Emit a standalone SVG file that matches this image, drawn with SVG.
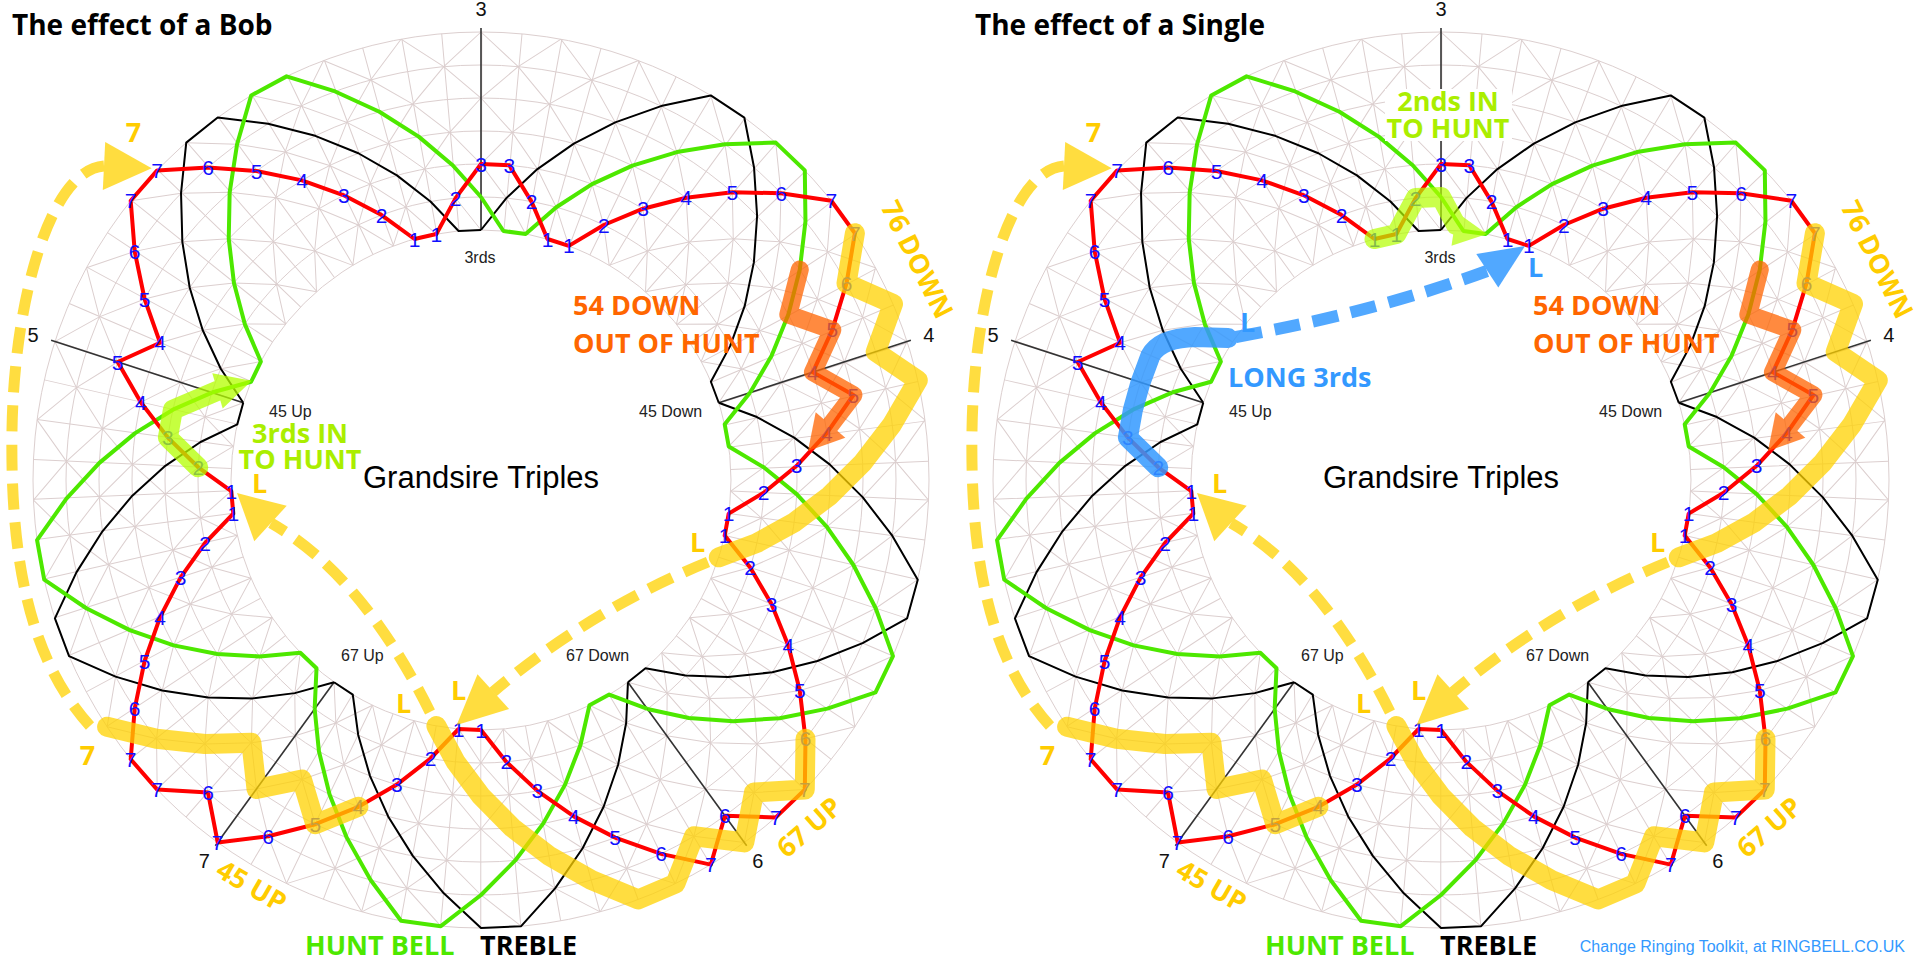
<svg xmlns="http://www.w3.org/2000/svg" xmlns:xlink="http://www.w3.org/1999/xlink" width="1920" height="960" viewBox="0 0 1920 960">
<style>
.gr{fill:none;stroke:#dccfcf;stroke-width:1}
.grr{fill:none;stroke:#dccfcf;stroke-width:198;stroke-dasharray:1 30.3261;stroke-dashoffset:-15.163}
.ax{stroke:#333;stroke-width:1.6}
.tr{fill:none;stroke:#000;stroke-width:2;stroke-linejoin:round}
.hb{fill:none;stroke:#4de800;stroke-width:4;stroke-linejoin:round}
.rd{fill:none;stroke:#ff0000;stroke-width:4;stroke-linejoin:round}
.n text{font-family:"Liberation Sans",Arial,sans-serif;font-size:21px;fill:#1010ff;text-anchor:middle;dominant-baseline:central}
.axl{font-family:"Liberation Sans",Arial,sans-serif;font-size:20px;fill:#111;text-anchor:middle;dominant-baseline:central}
.wk{font-family:"Liberation Sans",Arial,sans-serif;font-size:16px;fill:#222}
.gt{font-family:"Liberation Sans",Arial,sans-serif;font-size:31px;fill:#000;text-anchor:middle}
.bd{font-family:"Open Sans","DejaVu Sans",sans-serif;font-weight:700;font-size:27px}
.ttl{font-family:"Open Sans","DejaVu Sans",sans-serif;font-weight:700;font-size:28px;fill:#000}
.mid{text-anchor:middle}
.cen{text-anchor:middle;dominant-baseline:central}
.yt{fill:#ffcc00}
.ot{fill:#ff6600}
.lgt{fill:#aaee00}
.blt{fill:#3399ff}
.ys{fill:none;stroke:#ffd200;stroke-width:20;stroke-linecap:round;stroke-linejoin:round}
.yd{fill:none;stroke:#ffd200;stroke-width:11;stroke-dasharray:26 13}
.yf{fill:#ffd200}
.os{fill:none;stroke:#ff6400;stroke-width:18;stroke-linecap:round;stroke-linejoin:round}
.of{fill:#ff6400}
.gs{fill:none;stroke:#b4ff00;stroke-width:20;stroke-linecap:round;stroke-linejoin:round}
.gf{fill:#b4ff00}
.bs{fill:none;stroke:#3399ff;stroke-width:20;stroke-linecap:round;stroke-linejoin:round}
.bdsh{fill:none;stroke:#3399ff;stroke-width:12;stroke-dasharray:26 13}
.bf{fill:#3399ff}
.foot{font-family:"Liberation Sans",Arial,sans-serif;font-size:16px;fill:#3399ff;text-anchor:end}
</style>
<defs>
<g id="dA">
<polyline class="gr" points="481,230 506.37,198.14 537.42,169.08 573.85,143.58 615.22,122.36 661.06,106.1 710.78,95.42"/>
<polyline class="gr" points="481,230 455.63,198.14 424.58,169.08 388.15,143.58 346.78,122.36 300.94,106.1 251.22,95.42"/>
</g>
<g id="dB">
<use href="#dA"/>
<use href="#dA" transform="rotate(10.285714 481 480)"/>
<use href="#dA" transform="rotate(20.571429 481 480)"/>
<use href="#dA" transform="rotate(30.857143 481 480)"/>
<use href="#dA" transform="rotate(41.142857 481 480)"/>
<use href="#dA" transform="rotate(51.428571 481 480)"/>
<use href="#dA" transform="rotate(61.714286 481 480)"/>
</g>
<g id="grid">
<circle class="grr" cx="481" cy="480" r="349"/>
<circle class="gr" cx="481" cy="480" r="250"/>
<circle class="gr" cx="481" cy="480" r="283"/>
<circle class="gr" cx="481" cy="480" r="316"/>
<circle class="gr" cx="481" cy="480" r="349"/>
<circle class="gr" cx="481" cy="480" r="382"/>
<circle class="gr" cx="481" cy="480" r="415"/>
<circle class="gr" cx="481" cy="480" r="448"/>
<use href="#dB"/>
<use href="#dB" transform="rotate(72 481 480)"/>
<use href="#dB" transform="rotate(144 481 480)"/>
<use href="#dB" transform="rotate(216 481 480)"/>
<use href="#dB" transform="rotate(288 481 480)"/>
</g>
<line id="axl" class="ax" x1="481" y1="28" x2="481" y2="230"/>
<polyline id="treb" class="tr" points="481,230 506.37,198.14 537.42,169.08 573.85,143.58 615.22,122.36 661.06,106.1 710.78,95.42 744.33,117.56 754.04,167.48 757.11,216.01 753.86,262.4 744.73,305.92 730.21,345.9 710.88,381.74 718.76,402.75"/>
<polyline id="hunt" class="hb" points="481,197 503.41,231.01 525.64,234.02 556.29,207.2 592.03,184.15 632.42,165.56 676.93,152.07 724.93,144.26 775.76,142.62 804.81,170.4 805.46,221.25 799.81,269.56 788.33,314.62 771.57,355.8 750.15,392.55"/>
<g id="axes">
<use href="#axl"/>
<use href="#axl" transform="rotate(72 481 480)"/>
<use href="#axl" transform="rotate(144 481 480)"/>
<use href="#axl" transform="rotate(216 481 480)"/>
<use href="#axl" transform="rotate(288 481 480)"/>
</g>
<g id="trebleAll">
<use href="#treb"/>
<use href="#treb" transform="rotate(72 481 480)"/>
<use href="#treb" transform="rotate(144 481 480)"/>
<use href="#treb" transform="rotate(216 481 480)"/>
<use href="#treb" transform="rotate(288 481 480)"/>
</g>
<g id="huntAll">
<use href="#hunt"/>
<use href="#hunt" transform="rotate(72 481 480)"/>
<use href="#hunt" transform="rotate(144 481 480)"/>
<use href="#hunt" transform="rotate(216 481 480)"/>
<use href="#hunt" transform="rotate(288 481 480)"/>
</g>
<path id="redPath" class="rd" d="M481,164 L509.3,165.3 L531.5,201.6 L547.5,239 L568.8,245.9 L603.8,225 L643.1,208.7 L686.1,197.7 L732.3,192.3 L781,193.2 L831.3,200.7 L854.9,233.2 L846.5,283.3 L832.3,329.9 L812.9,372.2 L853.4,395 L826.8,433.2 L796.7,465.8 L763.7,492.7 L728.7,513.6 L724.7,535.6 L750.2,567.5 L771.6,604.2 L788.3,645.4 L799.8,690.4 L805.5,738.8 L804.8,789.6 L775.8,817.4 L724.9,815.7 L710.8,864.6 L661.1,853.9 L615.2,837.6 L573.9,816.4 L537.4,790.9 L506.4,761.9 L481,730 L458.6,729 L430.5,758.5 L396.9,784.6 L358.4,806.8 L315.3,824.2 L268.2,836.3 L217.7,842.4 L208,792.5 L157.2,789.6 L130.7,759.3 L134.7,708.6 L144.6,661 L160.1,617.2 L180.5,577.7 L205.1,543 L233.3,513.6 L231.3,491.2 L198.3,467.3 L167.9,437.6 L140.8,402.3 L117.7,362 L160.1,342.8 L144.6,299 L134.7,251.4 L130.7,200.7 L157.2,170.4 L208,167.5 L256.5,171 L302,180.4 L343.9,195.3 L381.6,215.1 L414.5,239 L436.4,234 L455.6,198.1 Z"/>
<g id="yellowOv">
<g opacity="0.75">
<path class="ys" d="M854.9,233.2 L846.5,283.3 L893,303.9 L875.7,351.8 L917.8,380.3 L892.2,424.3 L862.6,462.9 L829.7,495.7 L794.1,522.4 L756.9,543 L718.8,557.3"/>
</g>
<g opacity="0.75">
<path class="yd" d="M708,562 Q590,610 493,692"/>
<polygon class="yf" points="477.5,674.3 456.7,725 509.1,709.1"/>
</g>
<g opacity="0.75">
<path class="ys" d="M805.5,738.8 L804.8,789.6 L754,792.5 L744.3,842.4 L693.9,836.3 L675.4,883.6 L638.4,899.4 L591.4,880 L549.2,855.9 L512.3,827.6 L481,796 L455.6,761.9 L436.4,726"/>
</g>
<g opacity="0.75">
<path class="yd" d="M430,712 Q362,575 271,523"/>
<polygon class="yf" points="286.7,505.8 237,493 254.3,541.2"/>
</g>
<g opacity="0.75">
<path class="ys" d="M358.4,806.8 L315.3,824.2 L302,779.6 L256.5,789 L251.4,742.8 L204.9,744 L156.5,738.8 L107.1,726.8"/>
</g>
<g opacity="0.75">
<path class="yd" d="M90,726 C30,660 10,560 12,430 C14,300 50,170 104,166"/>
<polygon class="yf" points="105.2,142 151.7,168.3 102.8,190"/>
</g>
<g opacity="0.75">
<path class="os" d="M799.8,269.6 L788.3,314.6 L832.3,329.9 L812.9,372.2 L853.4,395 L830.5,425"/>
<polygon class="of" points="815.7,412.2 808,451 845.3,437.8"/>
</g>
</g>
</defs>
<rect x="0" y="0" width="1920" height="960" fill="#ffffff"/>

<g id="bob-panel">
<g id="bob-grid"><use href="#grid"/></g>
<g id="bob-axes"><use href="#axes"/>
<text class="axl" x="481" y="9">3</text>
<text class="axl" x="928.9" y="334.5">4</text>
<text class="axl" x="757.8" y="861">6</text>
<text class="axl" x="204.2" y="861">7</text>
<text class="axl" x="33.1" y="334.5">5</text>
</g>
<g id="bob-treble"><use href="#trebleAll"/></g>
<g id="bob-huntbell"><use href="#huntAll"/></g>
<g id="bob-path"><use href="#redPath"/></g>
<g id="bob-places" class="n">
<text x="481" y="164">3</text><text x="509.3" y="165.3">3</text><text x="531.5" y="201.6">2</text><text x="547.5" y="239">1</text><text x="568.8" y="245.9">1</text><text x="603.8" y="225">2</text><text x="643.1" y="208.7">3</text><text x="686.1" y="197.7">4</text><text x="732.3" y="192.3">5</text><text x="781" y="193.2">6</text>
<text x="831.3" y="200.7">7</text><text x="854.9" y="233.2">7</text><text x="846.5" y="283.3">6</text><text x="832.3" y="329.9">5</text><text x="812.9" y="372.2">4</text><text x="853.4" y="395">5</text><text x="826.8" y="433.2">4</text><text x="796.7" y="465.8">3</text><text x="763.7" y="492.7">2</text><text x="728.7" y="513.6">1</text>
<text x="724.7" y="535.6">1</text><text x="750.2" y="567.5">2</text><text x="771.6" y="604.2">3</text><text x="788.3" y="645.4">4</text><text x="799.8" y="690.4">5</text><text x="805.5" y="738.8">6</text><text x="804.8" y="789.6">7</text><text x="775.8" y="817.4">7</text><text x="724.9" y="815.7">6</text><text x="710.8" y="864.6">7</text>
<text x="661.1" y="853.9">6</text><text x="615.2" y="837.6">5</text><text x="573.9" y="816.4">4</text><text x="537.4" y="790.9">3</text><text x="506.4" y="761.9">2</text><text x="481" y="730">1</text><text x="458.6" y="729">1</text><text x="430.5" y="758.5">2</text><text x="396.9" y="784.6">3</text><text x="358.4" y="806.8">4</text>
<text x="315.3" y="824.2">5</text><text x="268.2" y="836.3">6</text><text x="217.7" y="842.4">7</text><text x="208" y="792.5">6</text><text x="157.2" y="789.6">7</text><text x="130.7" y="759.3">7</text><text x="134.7" y="708.6">6</text><text x="144.6" y="661">5</text><text x="160.1" y="617.2">4</text><text x="180.5" y="577.7">3</text>
<text x="205.1" y="543">2</text><text x="233.3" y="513.6">1</text><text x="231.3" y="491.2">1</text><text x="198.3" y="467.3">2</text><text x="167.9" y="437.6">3</text><text x="140.8" y="402.3">4</text><text x="117.7" y="362">5</text><text x="160.1" y="342.8">4</text><text x="144.6" y="299">5</text><text x="134.7" y="251.4">6</text>
<text x="130.7" y="200.7">7</text><text x="157.2" y="170.4">7</text><text x="208" y="167.5">6</text><text x="256.5" y="171">5</text><text x="302" y="180.4">4</text><text x="343.9" y="195.3">3</text><text x="381.6" y="215.1">2</text><text x="414.5" y="239">1</text><text x="436.4" y="234">1</text><text x="455.6" y="198.1">2</text>
</g>
<g id="bob-works">
<text class="wk mid" x="480" y="263">3rds</text>
<text class="wk" x="269" y="417">45 Up</text>
<text class="wk" x="639" y="417">45 Down</text>
<text class="wk" x="341" y="661">67 Up</text>
<text class="wk" x="566" y="661">67 Down</text>
<text class="gt" x="481" y="488">Grandsire Triples</text>
</g>
<g id="bob-overlays">
<use href="#yellowOv"/>
<g opacity="0.75">
<path class="gs" d="M198.3,467.3 L167.9,437.6 L172.9,409.7 L217.5,390.8"/>
<polygon class="gf" points="212.3,373.2 251.7,380.7 222.7,408.4"/>
</g>
</g>
<g id="bob-labels">
<text class="ttl" x="12" y="35">The effect of a Bob</text>
<text class="bd" x="305" y="955" fill="#4de800">HUNT BELL</text>
<text class="bd" x="480" y="955" fill="#000">TREBLE</text>
<text class="bd ot" x="573" y="315">54 DOWN</text>
<text class="bd ot" x="573" y="353">OUT OF HUNT</text>
<text class="bd yt cen" x="918" y="259" transform="rotate(63.5 918 259)">76 DOWN</text>
<text class="bd yt cen" x="808.5" y="826.5" transform="rotate(-41 808.5 826.5)">67 UP</text>
<text class="bd yt cen" x="252" y="885" transform="rotate(30 252 885)">45 UP</text>
<text class="bd yt mid" x="133.5" y="142">7</text>
<text class="bd yt mid" x="87.5" y="765">7</text>
<text class="bd yt" x="451" y="700">L</text>
<text class="bd yt" x="396" y="713">L</text>
<text class="bd yt" x="690" y="552">L</text>
<text class="bd yt" x="252" y="493">L</text>
<text class="bd lgt mid" x="300" y="443">3rds IN</text>
<text class="bd lgt mid" x="300" y="469">TO HUNT</text>
</g>
</g>

<g id="single-panel" transform="translate(960,0)">
<g id="single-grid"><use href="#grid"/></g>
<g id="single-axes"><use href="#axes"/>
<text class="axl" x="481" y="9">3</text>
<text class="axl" x="928.9" y="334.5">4</text>
<text class="axl" x="757.8" y="861">6</text>
<text class="axl" x="204.2" y="861">7</text>
<text class="axl" x="33.1" y="334.5">5</text>
</g>
<g id="single-treble"><use href="#trebleAll"/></g>
<g id="single-huntbell"><use href="#huntAll"/></g>
<g id="single-path"><use href="#redPath"/></g>
<g id="single-places" class="n">
<text x="481" y="164">3</text><text x="509.3" y="165.3">3</text><text x="531.5" y="201.6">2</text><text x="547.5" y="239">1</text><text x="568.8" y="245.9">1</text><text x="603.8" y="225">2</text><text x="643.1" y="208.7">3</text><text x="686.1" y="197.7">4</text><text x="732.3" y="192.3">5</text><text x="781" y="193.2">6</text>
<text x="831.3" y="200.7">7</text><text x="854.9" y="233.2">7</text><text x="846.5" y="283.3">6</text><text x="832.3" y="329.9">5</text><text x="812.9" y="372.2">4</text><text x="853.4" y="395">5</text><text x="826.8" y="433.2">4</text><text x="796.7" y="465.8">3</text><text x="763.7" y="492.7">2</text><text x="728.7" y="513.6">1</text>
<text x="724.7" y="535.6">1</text><text x="750.2" y="567.5">2</text><text x="771.6" y="604.2">3</text><text x="788.3" y="645.4">4</text><text x="799.8" y="690.4">5</text><text x="805.5" y="738.8">6</text><text x="804.8" y="789.6">7</text><text x="775.8" y="817.4">7</text><text x="724.9" y="815.7">6</text><text x="710.8" y="864.6">7</text>
<text x="661.1" y="853.9">6</text><text x="615.2" y="837.6">5</text><text x="573.9" y="816.4">4</text><text x="537.4" y="790.9">3</text><text x="506.4" y="761.9">2</text><text x="481" y="730">1</text><text x="458.6" y="729">1</text><text x="430.5" y="758.5">2</text><text x="396.9" y="784.6">3</text><text x="358.4" y="806.8">4</text>
<text x="315.3" y="824.2">5</text><text x="268.2" y="836.3">6</text><text x="217.7" y="842.4">7</text><text x="208" y="792.5">6</text><text x="157.2" y="789.6">7</text><text x="130.7" y="759.3">7</text><text x="134.7" y="708.6">6</text><text x="144.6" y="661">5</text><text x="160.1" y="617.2">4</text><text x="180.5" y="577.7">3</text>
<text x="205.1" y="543">2</text><text x="233.3" y="513.6">1</text><text x="231.3" y="491.2">1</text><text x="198.3" y="467.3">2</text><text x="167.9" y="437.6">3</text><text x="140.8" y="402.3">4</text><text x="117.7" y="362">5</text><text x="160.1" y="342.8">4</text><text x="144.6" y="299">5</text><text x="134.7" y="251.4">6</text>
<text x="130.7" y="200.7">7</text><text x="157.2" y="170.4">7</text><text x="208" y="167.5">6</text><text x="256.5" y="171">5</text><text x="302" y="180.4">4</text><text x="343.9" y="195.3">3</text><text x="381.6" y="215.1">2</text><text x="414.5" y="239">1</text><text x="436.4" y="234">1</text><text x="455.6" y="198.1">2</text>
</g>
<g id="single-works">
<text class="wk mid" x="480" y="263">3rds</text>
<text class="wk" x="269" y="417">45 Up</text>
<text class="wk" x="639" y="417">45 Down</text>
<text class="wk" x="341" y="661">67 Up</text>
<text class="wk" x="566" y="661">67 Down</text>
<text class="gt" x="481" y="488">Grandsire Triples</text>
</g>
<g id="single-overlays">
<use href="#yellowOv"/>
<g opacity="0.85">
<path class="bs" d="M198.3,467.3 L167.9,437.6 L172.9,409.7 L180.5,382.4 L190.4,355.8 Q200,338 235,337 L268,338"/>
<path class="bdsh" d="M276,337 Q415,312 527,271"/>
<polygon class="bf" points="516.3,254.1 565,246 538.3,287.5"/>
</g>
<g opacity="0.7">
<path class="gs" d="M414.5,239 L436.4,234 L455.6,198.1 L481,197 L496,225"/>
<polygon class="gf" points="491.5,245.8 527,234 496.6,212.2"/>
</g>
</g>
<g id="single-labels">
<text class="ttl" x="15" y="35">The effect of a Single</text>
<text class="bd" x="305" y="955" fill="#4de800">HUNT BELL</text>
<text class="bd" x="480" y="955" fill="#000">TREBLE</text>
<text class="bd ot" x="573" y="315">54 DOWN</text>
<text class="bd ot" x="573" y="353">OUT OF HUNT</text>
<text class="bd yt cen" x="918" y="259" transform="rotate(63.5 918 259)">76 DOWN</text>
<text class="bd yt cen" x="808.5" y="826.5" transform="rotate(-41 808.5 826.5)">67 UP</text>
<text class="bd yt cen" x="252" y="885" transform="rotate(30 252 885)">45 UP</text>
<text class="bd yt mid" x="133.5" y="142">7</text>
<text class="bd yt mid" x="87.5" y="765">7</text>
<text class="bd yt" x="451" y="700">L</text>
<text class="bd yt" x="396" y="713">L</text>
<text class="bd yt" x="690" y="552">L</text>
<text class="bd yt" x="252" y="493">L</text>
<text class="bd blt" x="268" y="387">LONG 3rds</text>
<text class="bd blt" x="280" y="332">L</text>
<text class="bd blt" x="568" y="277">L</text>
<rect x="425" y="89" width="127" height="52" fill="#ffffff"/>
<text class="bd lgt mid" x="488" y="111">2nds IN</text>
<text class="bd lgt mid" x="488" y="138">TO HUNT</text>
</g>
</g>
<text class="foot" x="1905" y="952">Change Ringing Toolkit, at RINGBELL.CO.UK</text>
</svg>
